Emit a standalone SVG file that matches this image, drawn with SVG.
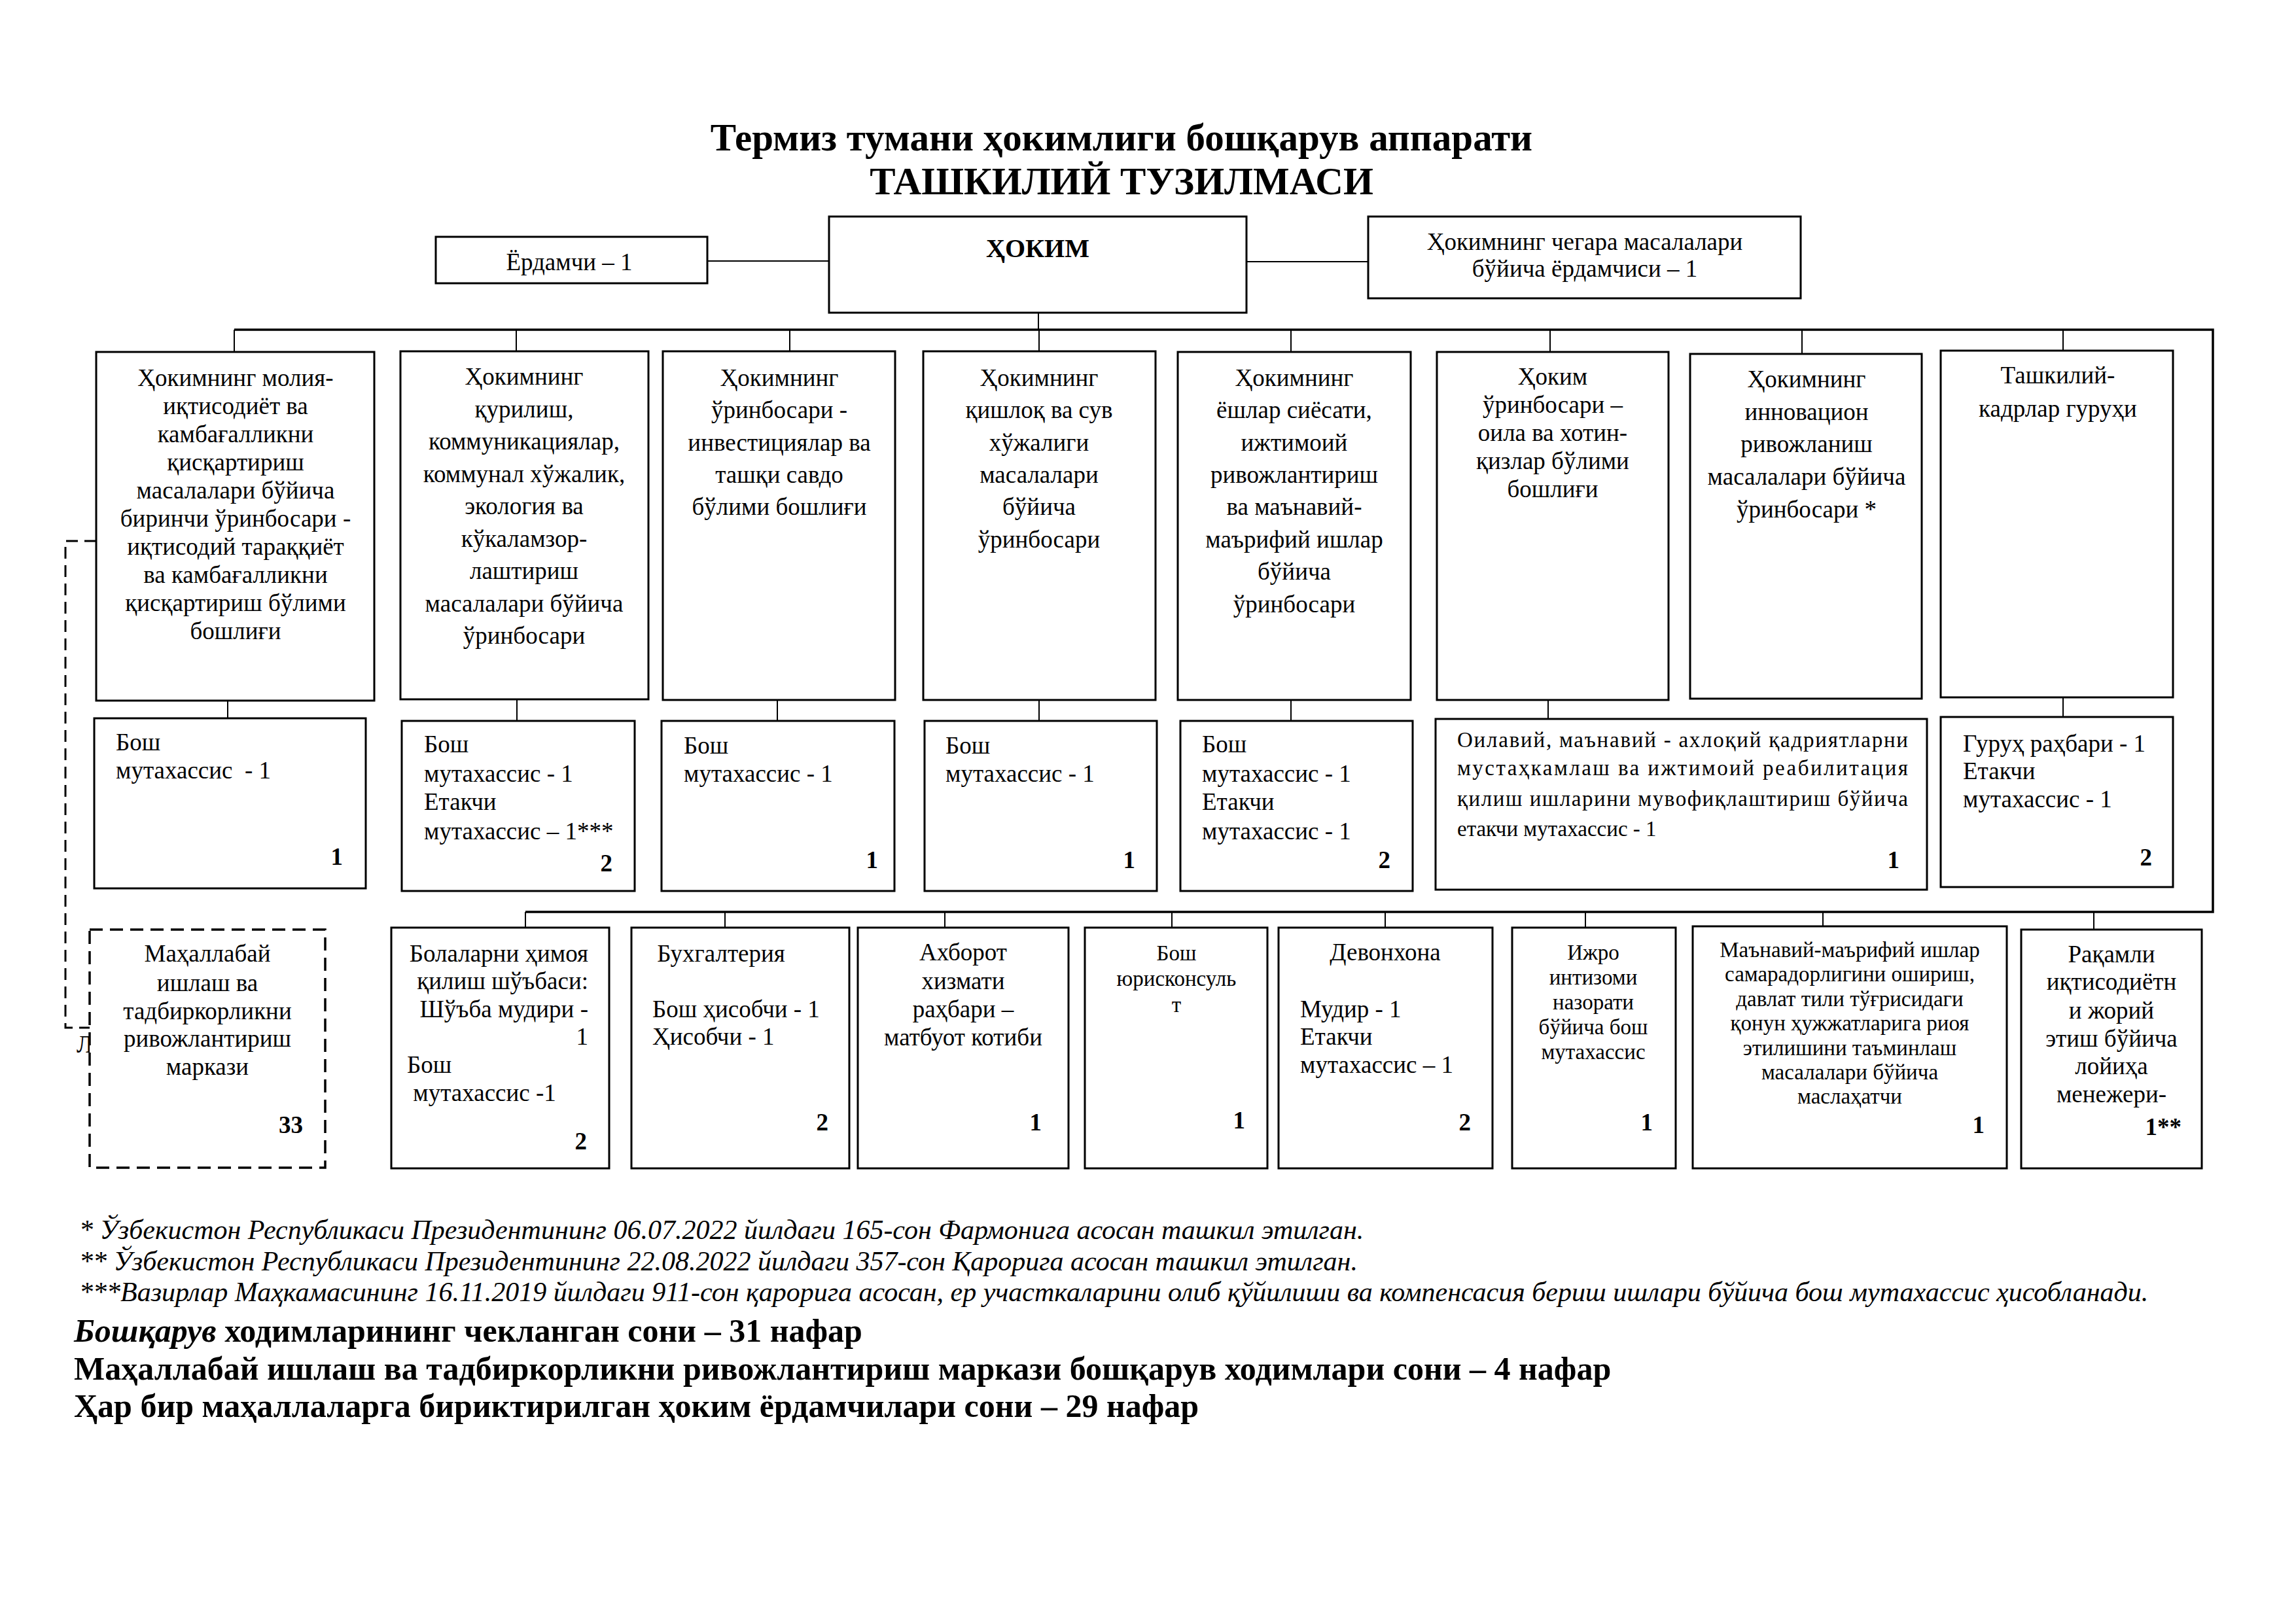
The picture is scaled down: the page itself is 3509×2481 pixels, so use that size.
<svg xmlns="http://www.w3.org/2000/svg" width="3509" height="2481" viewBox="0 0 3509 2481">
<style>
text{font-family:"Liberation Serif","Times New Roman",serif;font-size:37px;fill:#000}
.c{text-anchor:middle}
.e{text-anchor:end}
.b{font-weight:bold}
.s34{font-size:33px}
.s33{font-size:33px}
.box{fill:#fff;stroke:#000;stroke-width:3}
.dbox{fill:#fff;stroke:#000;stroke-width:3.5;stroke-dasharray:20 11}
.ln{stroke:#000;stroke-width:2;fill:none}
.bus{stroke:#000;stroke-width:3.5;fill:none}
.dln{stroke:#000;stroke-width:3;fill:none;stroke-dasharray:18 10}
.fn{font-style:italic;font-size:42px}
.sum{font-weight:bold;font-size:50px}
</style>
<rect width="3509" height="2481" fill="#fff"/>

<g id="title">
<text class="c b" x="1714" y="230" style="font-size:59px">Термиз тумани ҳокимлиги бошқарув аппарати</text>
<text class="c b" x="1714" y="297" style="font-size:59px">ТАШКИЛИЙ ТУЗИЛМАСИ</text>
</g>

<g id="connectors">
<line class="ln" x1="1081" y1="399" x2="1267" y2="399"/>
<line class="ln" x1="1905" y1="400" x2="2091" y2="400"/>
<line class="ln" x1="1587" y1="478" x2="1587" y2="504"/>
<polyline class="bus" points="358,504 3382,504 3382,1394 803,1394"/>
<line class="ln" x1="358" y1="504" x2="358" y2="538"/>
<line class="ln" x1="789" y1="504" x2="789" y2="537"/>
<line class="ln" x1="1207" y1="504" x2="1207" y2="537"/>
<line class="ln" x1="1588" y1="504" x2="1588" y2="537"/>
<line class="ln" x1="1973" y1="504" x2="1973" y2="538"/>
<line class="ln" x1="2369" y1="504" x2="2369" y2="538"/>
<line class="ln" x1="2754" y1="504" x2="2754" y2="541"/>
<line class="ln" x1="3153" y1="504" x2="3153" y2="536"/>
<line class="ln" x1="348" y1="1071" x2="348" y2="1098"/>
<line class="ln" x1="790" y1="1069" x2="790" y2="1102"/>
<line class="ln" x1="1188" y1="1070" x2="1188" y2="1102"/>
<line class="ln" x1="1588" y1="1070" x2="1588" y2="1102"/>
<line class="ln" x1="1973" y1="1070" x2="1973" y2="1102"/>
<line class="ln" x1="2366" y1="1070" x2="2366" y2="1099"/>
<line class="ln" x1="3153" y1="1066" x2="3153" y2="1096"/>
<line class="ln" x1="803" y1="1394" x2="803" y2="1418"/>
<line class="ln" x1="1108" y1="1394" x2="1108" y2="1418"/>
<line class="ln" x1="1444" y1="1394" x2="1444" y2="1418"/>
<line class="ln" x1="1791" y1="1394" x2="1791" y2="1418"/>
<line class="ln" x1="2117" y1="1394" x2="2117" y2="1418"/>
<line class="ln" x1="2423" y1="1394" x2="2423" y2="1418"/>
<line class="ln" x1="2786" y1="1394" x2="2786" y2="1416"/>
<line class="ln" x1="3200" y1="1394" x2="3200" y2="1421"/>
<polyline class="dln" points="147,827 100,827 100,1571 137,1571"/>
</g>

<g id="n-hokim">
<rect class="box" x="1267" y="331" width="638" height="147"/>
<text class="c b" x="1586" y="393" style="font-size:40px">ҲОКИМ</text>
</g>
<g id="n-yordamchi">
<rect class="box" x="666" y="362" width="415" height="71"/>
<text class="c" x="870" y="413">Ёрдамчи – 1</text>
</g>
<g id="n-chegara">
<rect class="box" x="2091" y="331" width="661" height="125"/>
<text class="c" x="2422" y="382">Ҳокимнинг чегара масалалари</text>
<text class="c" x="2422" y="423">бўйича ёрдамчиси – 1</text>
</g>

<g id="n-b1">
<rect class="box" x="147" y="538" width="425" height="533"/>
<text class="c" x="360" y="590">Ҳокимнинг молия-</text>
<text class="c" x="360" y="633">иқтисодиёт ва</text>
<text class="c" x="360" y="676">камбағалликни</text>
<text class="c" x="360" y="719">қисқартириш</text>
<text class="c" x="360" y="762">масалалари бўйича</text>
<text class="c" x="360" y="805">биринчи ўринбосари -</text>
<text class="c" x="360" y="848">иқтисодий тараққиёт</text>
<text class="c" x="360" y="891">ва камбағалликни</text>
<text class="c" x="360" y="934">қисқартириш бўлими</text>
<text class="c" x="360" y="977">бошлиғи</text>
</g>
<g id="n-b2">
<rect class="box" x="612" y="537" width="379" height="532"/>
<text class="c" x="801" y="588">Ҳокимнинг</text>
<text class="c" x="801" y="638">қурилиш,</text>
<text class="c" x="801" y="687">коммуникациялар,</text>
<text class="c" x="801" y="737">коммунал хўжалик,</text>
<text class="c" x="801" y="786">экология ва</text>
<text class="c" x="801" y="836">кўкаламзор-</text>
<text class="c" x="801" y="885">лаштириш</text>
<text class="c" x="801" y="935">масалалари бўйича</text>
<text class="c" x="801" y="984">ўринбосари</text>
</g>
<g id="n-b3">
<rect class="box" x="1013" y="537" width="355" height="533"/>
<text class="c" x="1191" y="590">Ҳокимнинг</text>
<text class="c" x="1191" y="639">ўринбосари -</text>
<text class="c" x="1191" y="689">инвестициялар ва</text>
<text class="c" x="1191" y="738">ташқи савдо</text>
<text class="c" x="1191" y="787">бўлими бошлиғи</text>
</g>
<g id="n-b4">
<rect class="box" x="1411" y="537" width="355" height="533"/>
<text class="c" x="1588" y="590">Ҳокимнинг</text>
<text class="c" x="1588" y="639">қишлоқ ва сув</text>
<text class="c" x="1588" y="689">хўжалиги</text>
<text class="c" x="1588" y="738">масалалари</text>
<text class="c" x="1588" y="787">бўйича</text>
<text class="c" x="1588" y="837">ўринбосари</text>
</g>
<g id="n-b5">
<rect class="box" x="1800" y="538" width="356" height="532"/>
<text class="c" x="1978" y="590">Ҳокимнинг</text>
<text class="c" x="1978" y="639">ёшлар сиёсати,</text>
<text class="c" x="1978" y="689">ижтимоий</text>
<text class="c" x="1978" y="738">ривожлантириш</text>
<text class="c" x="1978" y="787">ва маънавий-</text>
<text class="c" x="1978" y="837">маърифий ишлар</text>
<text class="c" x="1978" y="886">бўйича</text>
<text class="c" x="1978" y="936">ўринбосари</text>
</g>
<g id="n-b6">
<rect class="box" x="2196" y="538" width="354" height="532"/>
<text class="c" x="2373" y="588">Ҳоким</text>
<text class="c" x="2373" y="631">ўринбосари –</text>
<text class="c" x="2373" y="674">оила ва хотин-</text>
<text class="c" x="2373" y="717">қизлар бўлими</text>
<text class="c" x="2373" y="760">бошлиғи</text>
</g>
<g id="n-b7">
<rect class="box" x="2583" y="541" width="354" height="527"/>
<text class="c" x="2761" y="592">Ҳокимнинг</text>
<text class="c" x="2761" y="642">инновацион</text>
<text class="c" x="2761" y="691">ривожланиш</text>
<text class="c" x="2761" y="741">масалалари бўйича</text>
<text class="c" x="2761" y="791">ўринбосари *</text>
</g>
<g id="n-b8">
<rect class="box" x="2966" y="536" width="355" height="530"/>
<text class="c" x="3145" y="586">Ташкилий-</text>
<text class="c" x="3145" y="637">кадрлар гуруҳи</text>
</g>

<g id="n-c1">
<rect class="box" x="144" y="1098" width="415" height="260"/>
<text x="177" y="1147">Бош</text>
<text x="177" y="1190" xml:space="preserve">мутахассис  - 1</text>
<text class="e b" x="524" y="1322">1</text>
</g>
<g id="n-c2">
<rect class="box" x="614" y="1102" width="356" height="260"/>
<text x="648" y="1150">Бош</text>
<text x="648" y="1195">мутахассис - 1</text>
<text x="648" y="1238">Етакчи</text>
<text x="648" y="1283">мутахассис – 1***</text>
<text class="e b" x="936" y="1332">2</text>
</g>
<g id="n-c3">
<rect class="box" x="1011" y="1102" width="356" height="260"/>
<text x="1045" y="1152">Бош</text>
<text x="1045" y="1195">мутахассис - 1</text>
<text class="e b" x="1342" y="1327">1</text>
</g>
<g id="n-c4">
<rect class="box" x="1413" y="1102" width="355" height="260"/>
<text x="1445" y="1152">Бош</text>
<text x="1445" y="1195">мутахассис - 1</text>
<text class="e b" x="1735" y="1327">1</text>
</g>
<g id="n-c5">
<rect class="box" x="1804" y="1102" width="355" height="260"/>
<text x="1837" y="1150">Бош</text>
<text x="1837" y="1195">мутахассис - 1</text>
<text x="1837" y="1238">Етакчи</text>
<text x="1837" y="1283">мутахассис - 1</text>
<text class="e b" x="2125" y="1327">2</text>
</g>
<g id="n-c6">
<rect class="box" x="2194" y="1099" width="751" height="261"/>
<text class="s33" x="2227" y="1142" textLength="689" lengthAdjust="spacing">Оилавий, маънавий - ахлоқий қадриятларни</text>
<text class="s33" x="2227" y="1185" textLength="689" lengthAdjust="spacing">мустаҳкамлаш ва ижтимоий реабилитация</text>
<text class="s33" x="2227" y="1232" textLength="689" lengthAdjust="spacing">қилиш ишларини мувофиқлаштириш бўйича</text>
<text class="s33" x="2227" y="1278">етакчи мутахассис - 1</text>
<text class="e b" x="2903" y="1327">1</text>
</g>
<g id="n-c8">
<rect class="box" x="2966" y="1096" width="355" height="260"/>
<text x="3000" y="1149">Гуруҳ раҳбари - 1</text>
<text x="3000" y="1191">Етакчи</text>
<text x="3000" y="1234">мутахассис - 1</text>
<text class="e b" x="3289" y="1323">2</text>
</g>

<g id="stray">
<text x="117" y="1609">Л</text>
</g>
<g id="n-mahalla">
<rect class="dbox" x="137" y="1421" width="360" height="364"/>
<text class="c" x="317" y="1470">Маҳаллабай</text>
<text class="c" x="317" y="1515">ишлаш ва</text>
<text class="c" x="317" y="1558">тадбиркорликни</text>
<text class="c" x="317" y="1600">ривожлантириш</text>
<text class="c" x="317" y="1643">маркази</text>
<text class="e b" x="463" y="1732">33</text>
</g>
<g id="n-l1">
<rect class="box" x="598" y="1418" width="333" height="368"/>
<text class="e" x="899" y="1470">Болаларни ҳимоя</text>
<text class="e" x="899" y="1512">қилиш шўъбаси:</text>
<text class="e" x="899" y="1555">Шўъба мудири -</text>
<text class="e" x="899" y="1597">1</text>
<text x="622" y="1640">Бош</text>
<text x="622" y="1683" xml:space="preserve"> мутахассис -1</text>
<text class="e b" x="897" y="1757">2</text>
</g>
<g id="n-l2">
<rect class="box" x="965" y="1418" width="333" height="368"/>
<text class="c" x="1102" y="1470">Бухгалтерия</text>
<text x="997" y="1555">Бош ҳисобчи - 1</text>
<text x="997" y="1597">Ҳисобчи - 1</text>
<text class="e b" x="1266" y="1728">2</text>
</g>
<g id="n-l3">
<rect class="box" x="1311" y="1418" width="322" height="368"/>
<text class="c" x="1472" y="1468">Ахборот</text>
<text class="c" x="1472" y="1512">хизмати</text>
<text class="c" x="1472" y="1555">раҳбари –</text>
<text class="c" x="1472" y="1598">матбуот котиби</text>
<text class="e b" x="1592" y="1728">1</text>
</g>
<g id="n-l4">
<rect class="box" x="1658" y="1418" width="279" height="368"/>
<text class="c s34" x="1798" y="1468">Бош</text>
<text class="c s34" x="1798" y="1507">юрисконсуль</text>
<text class="c s34" x="1798" y="1547">т</text>
<text class="e b" x="1903" y="1725">1</text>
</g>
<g id="n-l5">
<rect class="box" x="1954" y="1418" width="327" height="368"/>
<text class="c" x="2117" y="1468">Девонхона</text>
<text x="1987" y="1555">Мудир - 1</text>
<text x="1987" y="1597">Етакчи</text>
<text x="1987" y="1640">мутахассис – 1</text>
<text class="e b" x="2248" y="1728">2</text>
</g>
<g id="n-l6">
<rect class="box" x="2311" y="1418" width="250" height="368"/>
<text class="c s33" x="2435" y="1467">Ижро</text>
<text class="c s33" x="2435" y="1505">интизоми</text>
<text class="c s33" x="2435" y="1543">назорати</text>
<text class="c s33" x="2435" y="1581">бўйича бош</text>
<text class="c s33" x="2435" y="1619">мутахассис</text>
<text class="e b" x="2526" y="1728">1</text>
</g>
<g id="n-l7">
<rect class="box" x="2587" y="1416" width="480" height="370"/>
<text class="c s33" x="2827" y="1463">Маънавий-маърифий ишлар</text>
<text class="c s33" x="2827" y="1500">самарадорлигини ошириш,</text>
<text class="c s33" x="2827" y="1538">давлат тили тўғрисидаги</text>
<text class="c s33" x="2827" y="1575">қонун ҳужжатларига риоя</text>
<text class="c s33" x="2827" y="1613">этилишини таъминлаш</text>
<text class="c s33" x="2827" y="1650">масалалари бўйича</text>
<text class="c s33" x="2827" y="1687">маслаҳатчи</text>
<text class="e b" x="3033" y="1732">1</text>
</g>
<g id="n-l8">
<rect class="box" x="3089" y="1421" width="276" height="365"/>
<text class="c" x="3227" y="1471">Рақамли</text>
<text class="c" x="3227" y="1513">иқтисодиётн</text>
<text class="c" x="3227" y="1557">и жорий</text>
<text class="c" x="3227" y="1600">этиш бўйича</text>
<text class="c" x="3227" y="1642">лойиҳа</text>
<text class="c" x="3227" y="1685">менежери-</text>
<text class="e b" x="3334" y="1735">1**</text>
</g>

<g id="notes">
<text class="fn" x="121" y="1894">* Ўзбекистон Республикаси Президентининг 06.07.2022 йилдаги 165-сон Фармонига асосан ташкил этилган.</text>
<text class="fn" x="121" y="1942">** Ўзбекистон Республикаси Президентининг 22.08.2022 йилдаги 357-сон Қарорига асосан ташкил этилган.</text>
<text class="fn" x="121" y="1989">***Вазирлар Маҳкамасининг 16.11.2019 йилдаги 911-сон қарорига асосан, ер участкаларини олиб қўйилиши ва компенсасия бериш ишлари бўйича бош мутахассис ҳисобланади.</text>
<text class="sum" x="113" y="2051"><tspan font-style="italic">Бошқарув</tspan> ходимларининг чекланган сони – 31 нафар</text>
<text class="sum" x="113" y="2109">Маҳаллабай ишлаш ва тадбиркорликни ривожлантириш маркази бошқарув ходимлари сони – 4 нафар</text>
<text class="sum" x="113" y="2166">Ҳар бир маҳаллаларга бириктирилган ҳоким ёрдамчилари сони – 29 нафар</text>
</g>
</svg>
